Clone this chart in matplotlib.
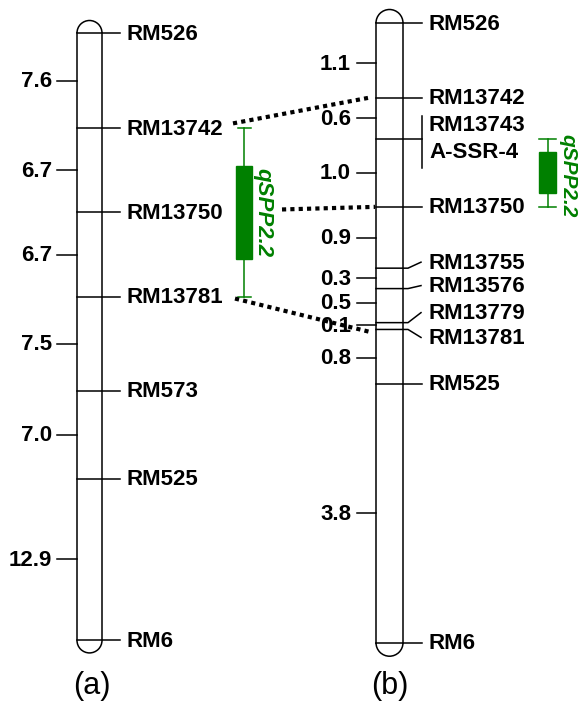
import numpy as np
import matplotlib
matplotlib.use("Agg")
import matplotlib.pyplot as plt
from matplotlib.patches import Arc, Rectangle

plt.rcParams['font.family'] = ['Liberation Sans', 'DejaVu Sans']

# chromosome (a): markers and interval distances (cM)
markers_a = ["RM526", "RM13742", "RM13750", "RM13781", "RM573", "RM525", "RM6"]
dist_a = [7.6, 6.7, 6.7, 7.5, 7.0, 12.9]
# chromosome (b)
markers_b = ["RM526", "RM13742", ("RM13743", "A-SSR-4"), "RM13750", "RM13755",
             "RM13576", "RM13779", "RM13781", "RM525", "RM6"]
dist_b = [1.1, 0.6, 1.0, 0.9, 0.3, 0.5, 0.1, 0.8, 3.8]
# QTL qSPP2.2 (cM): whisker low/high, box low/high
qtl_a = [7.6, 21.0, 10.6, 18.0]
qtl_b = [1.7, 2.7, 1.9, 2.5]
qtl_name = "qSPP2.2"

GREEN = "#008000"
FS = 16
LW = 1.1

fig = plt.figure(figsize=(5.79, 7.03), dpi=100)
ax = fig.add_axes([0, 0, 1, 1])
ax.set_xlim(0, 579)
ax.set_ylim(703, 0)
ax.axis("off")


def draw_chrom(x0, x1, top, scale, dists):
    pos = top + scale * np.concatenate([[0], np.cumsum(dists)])
    w = x1 - x0
    ax.plot([x0, x0], [pos[0], pos[-1]], color="black", lw=LW)
    ax.plot([x1, x1], [pos[0], pos[-1]], color="black", lw=LW)
    # y axis is inverted, so the arc angles are flipped
    ax.add_patch(Arc(((x0 + x1) / 2, pos[0]), w, w, theta1=180, theta2=360,
                     color="black", lw=LW))
    ax.add_patch(Arc(((x0 + x1) / 2, pos[-1]), w, w, theta1=0, theta2=180,
                     color="black", lw=LW))
    mids = (pos[:-1] + pos[1:]) / 2
    return pos, mids


# ---- chromosome (a)
xa0, xa1 = 77, 102
pos_a, mid_a = draw_chrom(xa0, xa1, 33, 12.55, dist_a)
for y, name in zip(pos_a, markers_a):
    ax.plot([xa0, 120], [y, y], color="black", lw=LW)
    ax.text(127, y + 1, name, fontsize=FS, fontweight="bold", va="center", ha="left")
for y, d in zip(mid_a, dist_a):
    ax.plot([57, xa0], [y, y], color="black", lw=LW)
    ax.text(52, y + 1, f"{d:.1f}", fontsize=FS, fontweight="bold", va="center", ha="right")

# ---- chromosome (b)
xb0, xb1 = 376, 403
pos_b, mid_b = draw_chrom(xb0, xb1, 23, 68.1, dist_b)
label_off_b = [0, 0, 0, 0, -6, -3, -10, 8, 0, 0]
for y, name, off in zip(pos_b, markers_b, label_off_b):
    if isinstance(name, tuple):
        ax.plot([xb0, 422], [y, y], color="black", lw=LW)
        ax.plot([422, 422], [y - 23, y + 29], color="black", lw=LW)
        ax.text(429, y - 13, name[0], fontsize=FS, fontweight="bold", va="center", ha="left")
        ax.text(429, y + 14, name[1], fontsize=FS, fontweight="bold", va="center", ha="left")
        continue
    if off == 0:
        ax.plot([xb0, 422], [y, y], color="black", lw=LW)
    else:
        ax.plot([xb0, 408, 421], [y, y, y + off], color="black", lw=LW)
    ax.text(429, y + off + 1, name, fontsize=FS, fontweight="bold", va="center", ha="left")
dist_off_b = [3, 0, 0, 0, 0, -3, -1, 1, 0]
for y, d, off in zip(mid_b, dist_b, dist_off_b):
    ax.plot([357, xb0], [y + off, y + off], color="black", lw=LW)
    ax.text(351, y + off + 1, f"{d:.1f}", fontsize=FS, fontweight="bold", va="center", ha="right")


# ---- QTL bars
def draw_qtl(xc, top, scale, q, bw, cw):
    wl, wh, bl, bh = [top + scale * v for v in q]
    ax.plot([xc, xc], [wl, wh], color=GREEN, lw=LW)
    ax.plot([xc - cw / 2, xc + cw / 2], [wl, wl], color=GREEN, lw=LW)
    ax.plot([xc - cw / 2, xc + cw / 2], [wh, wh], color=GREEN, lw=LW)
    ax.add_patch(Rectangle((xc - bw / 2, bl), bw, bh - bl, facecolor=GREEN,
                           edgecolor=GREEN, lw=1))
    return (bl + bh) / 2, (wl + wh) / 2


ya, _ = draw_qtl(244, 33, 12.55, qtl_a, 16, 13)
ax.text(263, ya, qtl_name, fontsize=FS, fontweight="bold", style="italic",
        color=GREEN, rotation=270, ha="center", va="center")
_, yb = draw_qtl(547.5, 23, 68.1, qtl_b, 17, 17)
ax.text(568, yb + 3, qtl_name, fontsize=15, fontweight="bold", style="italic",
        color=GREEN, rotation=270, ha="center", va="center")

# ---- dotted connectors
dot = dict(color="black", lw=3, linestyle=(0, (1, 1)), dash_capstyle="butt")
ax.plot([233, 368], [pos_a[1] - 5, pos_b[1]], **dot)
ax.plot([282, 375], [pos_a[2] - 3, pos_b[3]], **dot)
ax.plot([235, 372], [pos_a[3] + 2, pos_b[7] + 3], **dot)

# ---- panel labels
ax.text(92, 686, "(a)", fontsize=22, ha="center", va="center")
ax.text(390, 686, "(b)", fontsize=22, ha="center", va="center")

fig.savefig("out.png", dpi=100)
